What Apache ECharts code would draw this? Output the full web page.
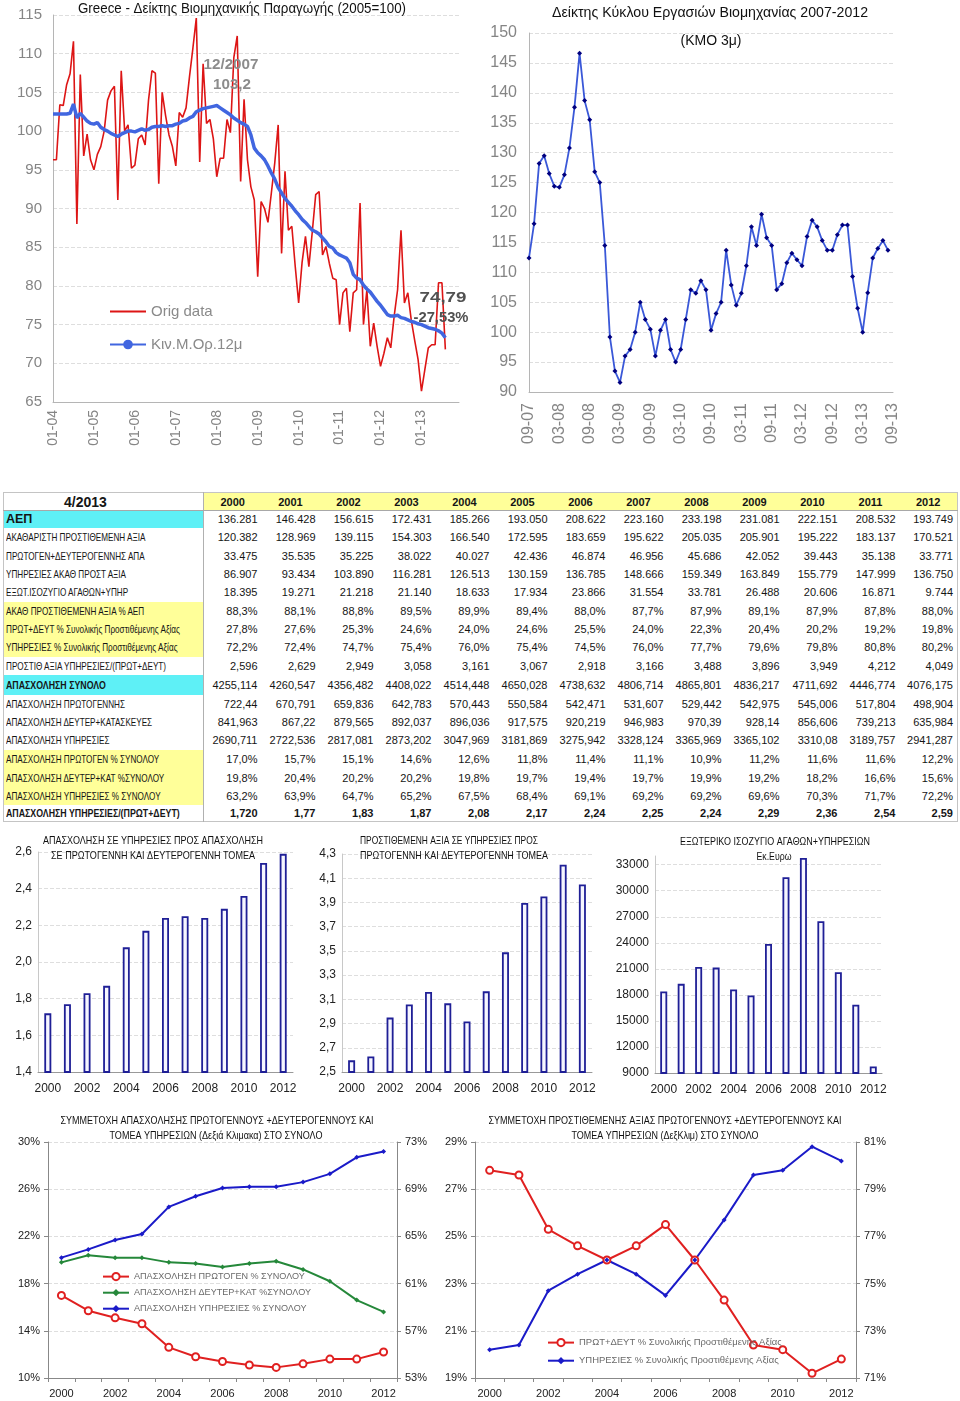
<!DOCTYPE html>
<html><head><meta charset="utf-8">
<script src="https://cdn.jsdelivr.net/npm/echarts@6/dist/echarts.min.js"></script>
<style>
html,body{margin:0;padding:0;background:#fff;}
#c{position:absolute;left:0;top:0;width:960px;height:1401px;}
#tbl{position:absolute;left:3px;top:492px;width:954px;background:#fff;}
#tbl table{border-collapse:collapse;table-layout:fixed;width:954px;font-family:'Liberation Sans',Arial,sans-serif;color:#151515;border:1px solid #c4c4c4;}
#tbl td{padding:0 4px 0 0;font-size:11px;white-space:nowrap;overflow:hidden;text-align:right;}
#tbl td.lab{text-align:left;padding:0 0 0 2px;border-right:1px solid #b0b0b0;}
#tbl td.lab span{display:inline-block;transform-origin:0 50%;}
#tbl tr.hdr td{border-bottom:1px solid #a8a8a8;font-weight:bold;}
#tbl tr.hdr td.yr{background:#ffff99;text-align:center;padding:0;font-size:11px;}
</style></head><body>
<div id="c"></div><div id="tbl"></div>
<script>
// ---------------- DATA ----------------
// Chart 1: industrial production index, monthly Jan 2004 - Aug 2013
const ipOrig = [96.3,96.3,103.4,103.3,106.0,107.4,111.6,88.0,107.3,96.8,99.6,96.3,
95.0,97.0,98.0,100.0,104.0,105.2,105.8,91.1,107.8,100.0,100.8,95.2,
95.6,99.0,99.5,98.2,104.0,107.8,107.5,93.2,105.0,102.0,99.5,98.0,
95.5,102.4,101.8,103.0,107.0,110.7,114.6,96.0,108.7,101.0,101.5,99.0,
94.1,96.5,96.5,101.5,99.8,109.5,112.3,93.5,104.1,96.3,92.8,91.1,
81.2,90.9,90.0,88.2,92.0,95.9,100.8,84.2,94.8,87.2,87.7,82.5,
77.8,83.0,86.4,82.5,87.0,91.8,92.2,84.0,85.1,82.9,81.0,80.8,
75.0,79.1,79.7,74.1,79.1,79.5,90.7,75.0,79.5,72.2,75.2,72.2,
69.6,71.3,73.3,72.0,76.1,79.5,87.2,77.8,79.1,75.6,73.0,70.5,
66.4,69.2,72.0,72.4,72.4,80.4,80.4,71.8];
const ipMA12 = [102.2,102.2,102.2,102.2,102.2,102.3,103.5,101.7,102.3,101.8,101.3,101.0,
100.9,101.1,100.5,100.2,100.0,99.7,99.5,99.3,99.6,99.8,100.0,100.0,
99.9,100.1,100.3,100.1,100.2,100.5,100.6,100.6,100.7,100.6,100.7,100.7,
100.9,101.0,101.3,101.4,101.7,101.9,102.5,102.7,102.9,103.0,103.1,103.2,
103.3,103.0,102.7,102.4,102.1,101.7,101.4,101.1,100.9,100.6,99.5,97.8,
97.2,96.8,96.3,95.5,94.6,93.8,92.7,92.0,91.3,90.8,90.3,89.7,
89.2,88.6,88.2,87.7,87.2,87.0,86.7,86.2,85.7,85.1,84.9,84.3,
84.0,83.8,83.6,83.0,81.5,81.0,80.8,80.1,79.6,79.2,78.6,78.0,
77.5,76.9,76.3,76.1,76.1,76.2,75.9,75.8,75.6,75.4,75.3,75.1,
75.0,74.8,74.6,74.5,74.4,74.2,73.9,73.3];
// Chart 2: industry turnover index (3m MA), monthly Sep 2007 - Aug 2013
const turnover = [112.4,118.1,128.2,129.5,126.5,124.4,124.2,126.3,130.8,137.6,146.6,138.7,
135.5,126.8,125.0,114.5,99.2,93.5,91.6,96.0,97.1,100.0,105.0,102.1,
100.5,96.0,100.3,102.1,97.1,95.0,97.1,102.1,107.1,106.5,108.6,107.1,
100.3,103.1,105.0,113.7,107.9,104.5,106.5,111.1,117.6,114.5,119.7,115.8,
114.5,107.1,108.1,111.6,113.2,112.1,111.1,116.0,118.7,117.6,115.3,113.7,
113.7,116.3,117.9,117.9,109.3,104.0,100.0,106.6,112.4,114.0,115.3,113.7];

const years = ['2000','2001','2002','2003','2004','2005','2006','2007','2008','2009','2010','2011','2012'];
const empRatio = [1.720,1.77,1.83,1.87,2.08,2.17,2.24,2.25,2.24,2.29,2.36,2.54,2.59];
const gvaRatio = [2.596,2.629,2.949,3.058,3.161,3.067,2.918,3.166,3.488,3.896,3.949,4.212,4.049];
const extBalance = [18395,19271,21218,21140,18633,17934,23866,31554,33781,26488,20606,16871,9744];
const empPrimPct = [17.0,15.7,15.1,14.6,12.6,11.8,11.4,11.1,10.9,11.2,11.6,11.6,12.2];
const empSecPct = [19.8,20.4,20.2,20.2,19.8,19.7,19.4,19.7,19.9,19.2,18.2,16.6,15.6];
const empServPct = [63.2,63.9,64.7,65.2,67.5,68.4,69.1,69.2,69.2,69.6,70.3,71.7,72.2];
const gvaPrimSecPct = [27.8,27.6,25.3,24.6,24.0,24.6,25.5,24.0,22.3,20.4,20.2,19.2,19.8];
const gvaServPct = [72.2,72.4,74.7,75.4,76.0,75.4,74.5,76.0,77.7,79.6,79.8,80.8,80.2];

// Table (text as shown)
const tblCorner = '4/2013';
const tblLabels = ['ΑΕΠ','ΑΚΑΘΑΡΙΣΤΗ ΠΡΟΣΤΙΘΕΜΕΝΗ ΑΞΙΑ','ΠΡΩΤΟΓΕΝ+ΔΕΥΤΕΡΟΓΕΝΝΗΣ ΑΠΑ','ΥΠΗΡΕΣΙΕΣ ΑΚΑΘ ΠΡΟΣΤ ΑΞΙΑ','ΕΞΩΤ.ΙΣΟΖΥΓΙΟ ΑΓΑΘΩΝ+ΥΠΗΡ',
'ΑΚΑΘ ΠΡΟΣΤΙΘΕΜΕΝΗ ΑΞΙΑ % ΑΕΠ','ΠΡΩΤ+ΔΕΥΤ % Συνολικής Προστιθέμενης Αξίας','ΥΠΗΡΕΣΙΕΣ % Συνολικής Προστιθέμενης Αξίας','ΠΡΟΣΤΙΘ ΑΞΙΑ ΥΠΗΡΕΣΙΕΣ/(ΠΡΩΤ+ΔΕΥΤ)',
'ΑΠΑΣΧΟΛΗΣΗ ΣΥΝΟΛΟ','ΑΠΑΣΧΟΛΗΣΗ ΠΡΩΤΟΓΕΝΝΗΣ','ΑΠΑΣΧΟΛΗΣΗ ΔΕΥΤΕΡ+ΚΑΤΑΣΚΕΥΕΣ','ΑΠΑΣΧΟΛΗΣΗ ΥΠΗΡΕΣΙΕΣ',
'ΑΠΑΣΧΟΛΗΣΗ ΠΡΩΤΟΓΕΝ % ΣΥΝΟΛΟΥ','ΑΠΑΣΧΟΛΗΣΗ ΔΕΥΤΕΡ+ΚΑΤ %ΣΥΝΟΛΟΥ','ΑΠΑΣΧΟΛΗΣΗ ΥΠΗΡΕΣΙΕΣ % ΣΥΝΟΛΟΥ','ΑΠΑΣΧΟΛΗΣΗ ΥΠΗΡΕΣΙΕΣ/(ΠΡΩΤ+ΔΕΥΤ)'];
const rowGdp = ['136.281','146.428','156.615','172.431','185.266','193.050','208.622','223.160','233.198','231.081','222.151','208.532','193.749'];
const rowGva = ['120.382','128.969','139.115','154.303','166.540','172.595','183.659','195.622','205.035','205.901','195.222','183.137','170.521'];
const rowPrimSecGva = ['33.475','35.535','35.225','38.022','40.027','42.436','46.874','46.956','45.686','42.052','39.443','35.138','33.771'];
const rowServGva = ['86.907','93.434','103.890','116.281','126.513','130.159','136.785','148.666','159.349','163.849','155.779','147.999','136.750'];
const rowExt = ['18.395','19.271','21.218','21.140','18.633','17.934','23.866','31.554','33.781','26.488','20.606','16.871','9.744'];
const rowGvaPctGdp = ['88,3%','88,1%','88,8%','89,5%','89,9%','89,4%','88,0%','87,7%','87,9%','89,1%','87,9%','87,8%','88,0%'];
const rowPrimSecPct = ['27,8%','27,6%','25,3%','24,6%','24,0%','24,6%','25,5%','24,0%','22,3%','20,4%','20,2%','19,2%','19,8%'];
const rowServPct = ['72,2%','72,4%','74,7%','75,4%','76,0%','75,4%','74,5%','76,0%','77,7%','79,6%','79,8%','80,8%','80,2%'];
const rowGvaRatio = ['2,596','2,629','2,949','3,058','3,161','3,067','2,918','3,166','3,488','3,896','3,949','4,212','4,049'];
const rowEmpTot = ['4255,114','4260,547','4356,482','4408,022','4514,448','4650,028','4738,632','4806,714','4865,801','4836,217','4711,692','4446,774','4076,175'];
const rowEmpPrim = ['722,44','670,791','659,836','642,783','570,443','550,584','542,471','531,607','529,442','542,975','545,006','517,804','498,904'];
const rowEmpSec = ['841,963','867,22','879,565','892,037','896,036','917,575','920,219','946,983','970,39','928,14','856,606','739,213','635,984'];
const rowEmpServ = ['2690,711','2722,536','2817,081','2873,202','3047,969','3181,869','3275,942','3328,124','3365,969','3365,102','3310,08','3189,757','2941,287'];
const rowEmpPrimPct = ['17,0%','15,7%','15,1%','14,6%','12,6%','11,8%','11,4%','11,1%','10,9%','11,2%','11,6%','11,6%','12,2%'];
const rowEmpSecPct = ['19,8%','20,4%','20,2%','20,2%','19,8%','19,7%','19,4%','19,7%','19,9%','19,2%','18,2%','16,6%','15,6%'];
const rowEmpServPct = ['63,2%','63,9%','64,7%','65,2%','67,5%','68,4%','69,1%','69,2%','69,2%','69,6%','70,3%','71,7%','72,2%'];
const rowEmpRatio = ['1,720','1,77','1,83','1,87','2,08','2,17','2,24','2,25','2,24','2,29','2,36','2,54','2,59'];

// ---------------- TABLE ----------------
const tblRowsData = [rowGdp,rowGva,rowPrimSecGva,rowServGva,rowExt,rowGvaPctGdp,rowPrimSecPct,rowServPct,rowGvaRatio,
  rowEmpTot,rowEmpPrim,rowEmpSec,rowEmpServ,rowEmpPrimPct,rowEmpSecPct,rowEmpServPct,rowEmpRatio];
const CY='#5ef0f6', YL='#ffff99';
const tblRowH = [17,19,18,18,19,18,18,19,18,20,18,18,19,19,18,18,17];
const tblLabBg = [CY,null,null,null,null,YL,YL,YL,null,CY,null,null,null,YL,YL,YL,null];
const tblBold = [1,0,0,0,0,0,0,0,0,1,0,0,0,0,0,0,1];
(function(){
  let h = '<table><colgroup><col style="width:200px">';
  for (let i=0;i<13;i++) h += '<col style="width:58px">';
  h += '</colgroup><tr class="hdr" style="height:18px"><td class="lab" style="font-size:14px;padding-left:60px">'+tblCorner+'</td>';
  years.forEach(y=>{ h += '<td class="yr">'+y+'</td>'; });
  h += '</tr>';
  tblRowsData.forEach((row,i)=>{
    const bold = tblBold[i];
    const bg = tblLabBg[i] ? 'background:'+tblLabBg[i]+';' : '';
    let sc = i===0 ? 1 : (bold ? 0.8 : 0.74);
    const fs = i===0 ? 12.5 : 11;
    h += '<tr style="height:'+tblRowH[i]+'px"><td class="lab" style="'+bg+'"><span style="transform:scaleX('+sc+');font-size:'+fs+'px;'+(bold?'font-weight:bold;':'')+'">'+tblLabels[i]+'</span></td>';
    row.forEach(v=>{ h += '<td style="'+(i===tblRowsData.length-1?'font-weight:bold;':'')+'">'+v+'</td>'; });
    h += '</tr>';
  });
  h += '</table>';
  document.getElementById('tbl').innerHTML = h;
})();

// ---------------- CHART ----------------
const pad = n => (n<10?'0':'')+n;
const months1 = []; for (let y=2004;y<=2013;y++) for (let m=1;m<=12;m++) months1.push(pad(m)+'-'+pad(y%100));
const months2 = []; for (let k=0;k<73;k++){ const mm=(8+k)%12+1, yy=2007+Math.floor((8+k)/12); months2.push(pad(mm)+'-'+pad(yy%100)); }

const FF = '"Liberation Sans", Arial, Helvetica, sans-serif';
const ctx = document.createElement('canvas').getContext('2d');
function hasFont(f){ ctx.font='20px "'+f+'", monospace'; const a=ctx.measureText('ΑΠΑΣΧΟΛΗΣΗ abcxyz').width; ctx.font='20px monospace'; const b=ctx.measureText('ΑΠΑΣΧΟΛΗΣΗ abcxyz').width; return a!==b; }
const NARROW = hasFont('Liberation Sans Narrow') ? '"Liberation Sans Narrow"' : '"Liberation Sans"';
function measure(text,size,weight,fam){ ctx.font=(weight||'normal')+' '+size+'px '+(fam||FF); return ctx.measureText(text).width; }
function fitText(text,cx,cy,size,targetW,color,weight){
  const w = measure(text,size,weight);
  return {type:'text', x:cx, y:cy, scaleX: targetW ? targetW/w : 1, silent:true, z:100,
    style:{text:text, fontSize:size, fontFamily:FF, fontWeight:weight||'normal', fill:color||'#111', align:'center', verticalAlign:'middle'}};
}
function fitFontSize(text,base,targetW,fam){ return base*targetW/measure(text,base,'normal',fam); }

const legFs1 = Math.max(9, fitFontSize('ΑΠΑΣΧΟΛΗΣΗ ΠΡΩΤΟΓΕΝ % ΣΥΝΟΛΟΥ',10.5,171,NARROW));
const legFs2 = Math.max(9, fitFontSize('ΥΠΗΡΕΣΙΕΣ % Συνολικής Προστιθέμενης Αξίας',10.5,200,NARROW));

const grayLab = '#858585';
const dashed = {show:true, showMaxLine:false, lineStyle:{color:'#dedede', type:'dashed'}};
const dashedAll = {show:true, lineStyle:{color:'#dedede', type:'dashed'}};
function pctFmt(v){ return Math.round(v)+'%'; }
function commaFmt(d){ return v => v.toFixed(d).replace('.',','); }

function barX(gi){ return {type:'category', gridIndex:gi, data:years, boundaryGap:true,
  axisLine:{lineStyle:{color:'#999'}}, axisTick:{show:false},
  axisLabel:{interval:1, fontSize:12, color:'#222', fontFamily:FF, margin:11}}; }
function barY(gi,min,max,itv,fmt,hideMax){ return {type:'value', gridIndex:gi, min:min, max:max, interval:itv,
  axisLine:{show:true, lineStyle:{color:'#c8c8c8'}}, axisTick:{show:false}, splitLine: hideMax ? dashed : dashedAll,
  axisLabel:{formatter:fmt, fontSize:12, color:'#222', fontFamily:FF, margin:6, showMaxLabel: !hideMax}}; }
function lineX(gi){ return {type:'category', gridIndex:gi, data:years, boundaryGap:true,
  axisLine:{lineStyle:{color:'#888'}}, axisTick:{show:true, interval:0, length:4, lineStyle:{color:'#888'}},
  axisLabel:{interval:1, fontSize:11, color:'#222', fontFamily:FF, margin:10}}; }
function lineY(gi,pos,min,max,itv,split){ return {type:'value', gridIndex:gi, position:pos, min:min, max:max, interval:itv,
  axisLine:{show:true, lineStyle:{color:'#888'}}, axisTick:{show:true, length:4, lineStyle:{color:'#888'}},
  splitLine: split ? dashedAll : {show:false},
  axisLabel:{formatter:pctFmt, fontSize:11, color:'#222', fontFamily:FF, margin:8}}; }

const barStyle = {color:'#f6f6ff', borderColor:'#1f1f96', borderWidth:1.8};

const option = {
  animation:false,
  backgroundColor:'#fff',
  textStyle:{fontFamily:FF},
  grid:[
    {left:53, top:15, width:406, height:387},
    {left:529, top:33, width:364, height:359},
    {left:38, top:852, width:255, height:220},
    {left:342, top:854, width:250, height:218},
    {left:655, top:856, width:227, height:217},
    {left:48, top:1142, width:349, height:236},
    {left:475, top:1142, width:381, height:236}
  ],
  xAxis:[
    {type:'category', gridIndex:0, data:months1, boundaryGap:false,
     axisLine:{lineStyle:{color:'#b5b5b5'}}, axisTick:{show:false},
     axisLabel:{interval:(i)=>i%12===0, rotate:90, fontSize:14, color:grayLab, margin:8}},
    {type:'category', gridIndex:1, data:months2, boundaryGap:false,
     axisLine:{lineStyle:{color:'#b5b5b5'}}, axisTick:{show:false},
     axisLabel:{interval:(i)=>i%6===0, rotate:90, fontSize:16, color:grayLab, margin:11}},
    barX(2), barX(3), barX(4), lineX(5), lineX(6)
  ],
  yAxis:[
    {type:'value', gridIndex:0, min:65, max:115, interval:5,
     axisLine:{show:true, lineStyle:{color:'#b5b5b5'}}, axisTick:{show:false}, splitLine:dashedAll,
     axisLabel:{fontSize:15, color:grayLab, margin:11}},
    {type:'value', gridIndex:1, min:90, max:150, interval:5,
     axisLine:{show:true, lineStyle:{color:'#b5b5b5'}}, axisTick:{show:false}, splitLine:dashedAll,
     axisLabel:{fontSize:16, color:grayLab, margin:12}},
    barY(2,1.4,2.6,0.2,commaFmt(1),false),
    barY(3,2.5,4.3,0.2,commaFmt(1),false),
    barY(4,9000,34000,3000,v=>String(v),true),
    lineY(5,'left',10,30,4,true),
    lineY(5,'right',53,73,4,false),
    lineY(6,'left',19,29,2,true),
    lineY(6,'right',71,81,2,false)
  ],
  legend:[
    {data:[{name:'Orig data', itemStyle:{opacity:0}},'Κιν.Μ.Ορ.12μ'], orient:'vertical', left:109, top:304, padding:0,
     itemWidth:36, itemHeight:12, itemGap:18, textStyle:{fontSize:15, color:'#8a8a8a'}},
    {data:['ΑΠΑΣΧΟΛΗΣΗ ΠΡΩΤΟΓΕΝ % ΣΥΝΟΛΟΥ','ΑΠΑΣΧΟΛΗΣΗ ΔΕΥΤΕΡ+ΚΑΤ %ΣΥΝΟΛΟΥ','ΑΠΑΣΧΟΛΗΣΗ ΥΠΗΡΕΣΙΕΣ % ΣΥΝΟΛΟΥ'],
     orient:'vertical', left:102, top:1272, padding:0, itemWidth:26, itemHeight:9, itemGap:7,
     textStyle:{fontSize:legFs1, color:'#6a6a6a', fontFamily:NARROW}},
    {data:['ΠΡΩΤ+ΔΕΥΤ % Συνολικής Προστιθέμενης Αξίας','ΥΠΗΡΕΣΙΕΣ % Συνολικής Προστιθέμενης Αξίας'],
     orient:'vertical', left:547, top:1338, padding:0, itemWidth:26, itemHeight:9, itemGap:9,
     textStyle:{fontSize:legFs2, color:'#6a6a6a', fontFamily:NARROW}}
  ],
  series:[
    {type:'line', name:'Orig data', xAxisIndex:0, yAxisIndex:0, data:ipOrig, symbol:'none',
     lineStyle:{color:'#dd1515', width:1.6}, itemStyle:{color:'#dd1515'}, z:2},
    {type:'line', name:'Κιν.Μ.Ορ.12μ', xAxisIndex:0, yAxisIndex:0, data:ipMA12, symbol:'circle', symbolSize:4, showSymbol:false,
     lineStyle:{color:'#4166e0', width:3.5}, itemStyle:{color:'#4166e0'}, z:3},
    {type:'line', name:'turnover', xAxisIndex:1, yAxisIndex:1, data:turnover, symbol:'diamond', symbolSize:5, showAllSymbol:true,
     lineStyle:{color:'#3a58d8', width:1.8}, itemStyle:{color:'#00007f'}},
    {type:'bar', name:'empRatio', xAxisIndex:2, yAxisIndex:2, data:empRatio, barWidth:7, itemStyle:barStyle},
    {type:'bar', name:'gvaRatio', xAxisIndex:3, yAxisIndex:3, data:gvaRatio, barWidth:7, itemStyle:barStyle},
    {type:'bar', name:'extBalance', xAxisIndex:4, yAxisIndex:4, data:extBalance, barWidth:7, itemStyle:barStyle},
    {type:'line', name:'ΑΠΑΣΧΟΛΗΣΗ ΠΡΩΤΟΓΕΝ % ΣΥΝΟΛΟΥ', xAxisIndex:5, yAxisIndex:5, data:empPrimPct,
     symbol:'emptyCircle', symbolSize:7, lineStyle:{color:'#e02020', width:2}, itemStyle:{color:'#e02020', borderWidth:1.5}},
    {type:'line', name:'ΑΠΑΣΧΟΛΗΣΗ ΔΕΥΤΕΡ+ΚΑΤ %ΣΥΝΟΛΟΥ', xAxisIndex:5, yAxisIndex:5, data:empSecPct,
     symbol:'diamond', symbolSize:5, lineStyle:{color:'#25883a', width:2}, itemStyle:{color:'#25883a'}},
    {type:'line', name:'ΑΠΑΣΧΟΛΗΣΗ ΥΠΗΡΕΣΙΕΣ % ΣΥΝΟΛΟΥ', xAxisIndex:5, yAxisIndex:6, data:empServPct,
     symbol:'diamond', symbolSize:5, lineStyle:{color:'#1a1ac8', width:2}, itemStyle:{color:'#1a1ac8'}},
    {type:'line', name:'ΠΡΩΤ+ΔΕΥΤ % Συνολικής Προστιθέμενης Αξίας', xAxisIndex:6, yAxisIndex:7, data:gvaPrimSecPct,
     symbol:'emptyCircle', symbolSize:7, lineStyle:{color:'#e02020', width:2}, itemStyle:{color:'#e02020', borderWidth:1.5}},
    {type:'line', name:'ΥΠΗΡΕΣΙΕΣ % Συνολικής Προστιθέμενης Αξίας', xAxisIndex:6, yAxisIndex:8, data:gvaServPct,
     symbol:'diamond', symbolSize:5, lineStyle:{color:'#1a1ac8', width:2}, itemStyle:{color:'#1a1ac8'}}
  ],
  graphic:[
    fitText('Greece - Δείκτης Βιομηχανικής Παραγωγής (2005=100)',242,9,14,328,'#111'),
    fitText('12/2007',231,65,15,55,'#8c8c8c','bold'),
    fitText('103,2',232,85,15,38,'#8c8c8c','bold'),
    fitText('74,79',443,298,15,47,'#505050','bold'),
    fitText('-27,53%',441,318,15,55,'#505050','bold'),
    fitText('Δείκτης Κύκλου Εργασιών Βιομηχανίας 2007-2012',710,13,15,316,'#111'),
    fitText('(ΚΜΟ 3μ)',711,41,15,61,'#111'),
    fitText('ΑΠΑΣΧΟΛΗΣΗ ΣΕ ΥΠΗΡΕΣΙΕΣ ΠΡΟΣ ΑΠΑΣΧΟΛΗΣΗ',153,841,10.5,220,'#111'),
    fitText('ΣΕ ΠΡΩΤΟΓΕΝΝΗ ΚΑΙ ΔΕΥΤΕΡΟΓΕΝΝΗ ΤΟΜΕΑ',153,856,10.5,204,'#111'),
    fitText('ΠΡΟΣΤΙΘΕΜΕΝΗ ΑΞΙΑ ΣΕ ΥΠΗΡΕΣΙΕΣ ΠΡΟΣ',449,841,10.5,178,'#111'),
    fitText('ΠΡΩΤΟΓΕΝΝΗ ΚΑΙ ΔΕΥΤΕΡΟΓΕΝΝΗ ΤΟΜΕΑ',454,856,10.5,188,'#111'),
    fitText('ΕΞΩΤΕΡΙΚΟ ΙΣΟΖΥΓΙΟ ΑΓΑΘΩΝ+ΥΠΗΡΕΣΙΩΝ',775,842,10.5,190,'#111'),
    fitText('Εκ.Ευρω',774,857,10.5,35,'#111'),
    fitText('ΣΥΜΜΕΤΟΧΗ ΑΠΑΣΧΟΛΗΣΗΣ ΠΡΩΤΟΓΕΝΝΟΥΣ +ΔΕΥΤΕΡΟΓΕΝΝΟΥΣ ΚΑΙ',217,1121,11,313,'#111'),
    fitText('ΤΟΜΕΑ ΥΠΗΡΕΣΙΩΝ (Δεξιά Κλιμακα) ΣΤΟ ΣΥΝΟΛΟ',216,1136,11,213,'#111'),
    fitText('ΣΥΜΜΕΤΟΧΗ ΠΡΟΣΤΙΘΕΜΕΝΗΣ ΑΞΙΑΣ ΠΡΩΤΟΓΕΝΝΟΥΣ +ΔΕΥΤΕΡΟΓΕΝΝΟΥΣ ΚΑΙ',665,1121,11,353,'#111'),
    fitText('ΤΟΜΕΑ ΥΠΗΡΕΣΙΩΝ (ΔεξΚλιμ) ΣΤΟ ΣΥΝΟΛΟ',665,1136,11,187,'#111')
  ]
};
const chart = echarts.init(document.getElementById('c'), null, {renderer:'canvas', width:960, height:1401});
chart.setOption(option);
</script>
</body></html>
